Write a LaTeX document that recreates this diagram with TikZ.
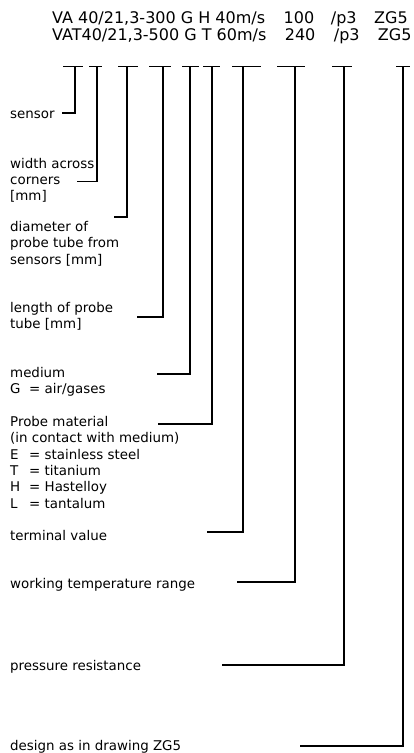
\documentclass[tikz,border=0pt]{standalone}
\usepackage{fontspec}
\setmainfont{DejaVu Sans}
\usetikzlibrary{positioning,calc}
\tikzstyle{code} = [anchor=base west, inner sep=0pt, font=\fontsize{16}{17}\selectfont]
\tikzstyle{desc} = [anchor=base west, align=left, inner sep=0pt, font=\fontsize{13.4}{16.3}\selectfont]
\tikzstyle{bar} = [line width=1.5pt]
\tikzstyle{lead} = [line width=1.5pt]
\tikzstyle{tip} = [coordinate]
\newcommand{\keyof}[1]{\makebox[19pt][l]{#1}}

\begin{document}
\begin{tikzpicture}[x=1pt, y=-1pt]
    \useasboundingbox (0,0) rectangle (413,753);

    % type codes
    \node[code] (codeA) at (52,23.5) {VA 40/21,3-300 G H 40m/s\hspace{18.5pt}100\hspace{16.7pt}/p3\hspace{17.6pt}ZG5};
    \node[code] (codeB) at (52,40) {VAT40/21,3-500 G T 60m/s\hspace{18.5pt}240\hspace{18.5pt}/p3\hspace{18.3pt}ZG5};

    % explanations (base = last line)
    \node[desc] (sensor) at (10,118) {sensor};
    \node[desc] (width) at (10,200.6) {width across\\corners\\{[mm]}};
    \node[desc] (diameter) at (10,264.1) {diameter of\\probe tube from\\sensors [mm]};
    \node[desc] (length) at (10,328.3) {length of probe\\tube [mm]};
    \node[desc] (medium) at (10,393.3) {medium\\\keyof{G}= air/gases};
    \node[desc] (material) at (10,508) {Probe material\\(in contact with medium)\\\keyof{E}= stainless steel\\\keyof{T}= titanium\\\keyof{H}= Hastelloy\\\keyof{L}= tantalum};
    \node[desc] (terminal) at (10,540) {terminal value};
    \node[desc] (temprange) at (10,588) {working temperature range};
    \node[desc] (pressure) at (10,670) {pressure resistance};
    \node[desc] (design) at (10,750) {design as in drawing ZG5};

    % markers under the code
    \coordinate (barA1) at (63,66.5);  \coordinate (barA2) at (83,66.5);
    \coordinate (barB1) at (89,66.5);  \coordinate (barB2) at (102,66.5);
    \coordinate (barC1) at (118,66.5); \coordinate (barC2) at (138,66.5);
    \coordinate (barD1) at (149,66.5); \coordinate (barD2) at (171,66.5);
    \coordinate (barE1) at (182,66.5); \coordinate (barE2) at (199,66.5);
    \coordinate (barF1) at (203,66.5); \coordinate (barF2) at (220,66.5);
    \coordinate (barG1) at (232,66.5); \coordinate (barG2) at (261,66.5);
    \coordinate (barH1) at (277,66.5); \coordinate (barH2) at (305,66.5);
    \coordinate (barI1) at (332,66.5); \coordinate (barI2) at (352,66.5);
    \coordinate (barJ1) at (396,66.5); \coordinate (barJ2) at (410,66.5);
    \draw[bar] (barA1) -- (barA2);
    \draw[bar] (barB1) -- (barB2);
    \draw[bar] (barC1) -- (barC2);
    \draw[bar] (barD1) -- (barD2);
    \draw[bar] (barE1) -- (barE2);
    \draw[bar] (barF1) -- (barF2);
    \draw[bar] (barG1) -- (barG2);
    \draw[bar] (barH1) -- (barH2);
    \draw[bar] (barI1) -- (barI2);
    \draw[bar] (barJ1) -- (barJ2);

    % leader lines
    \node[tip] (topA) at (75,66.5) {};   \node[tip] (endA) at (62,113) {};
    \node[tip] (topB) at (97,66.5) {};   \node[tip] (endB) at (77,181.5) {};
    \node[tip] (topC) at (127,66.5) {};  \node[tip] (endC) at (114,217) {};
    \node[tip] (topD) at (163,66.5) {};  \node[tip] (endD) at (137,317) {};
    \node[tip] (topE) at (190,66.5) {};  \node[tip] (endE) at (157,374) {};
    \node[tip] (topF) at (212,66.5) {};  \node[tip] (endF) at (158,424) {};
    \node[tip] (topG) at (243,66.5) {};  \node[tip] (endG) at (207,532) {};
    \node[tip] (topH) at (295,66.5) {};  \node[tip] (endH) at (237,582) {};
    \node[tip] (topI) at (344,66.5) {};  \node[tip] (endI) at (222,665) {};
    \node[tip] (topJ) at (403,66.5) {};  \node[tip] (endJ) at (300,746) {};
    \draw[lead] (topA) |- (endA);
    \draw[lead] (topB) |- (endB);
    \draw[lead] (topC) |- (endC);
    \draw[lead] (topD) |- (endD);
    \draw[lead] (topE) |- (endE);
    \draw[lead] (topF) |- (endF);
    \draw[lead] (topG) |- (endG);
    \draw[lead] (topH) |- (endH);
    \draw[lead] (topI) |- (endI);
    \draw[lead] (topJ) |- (endJ);
\end{tikzpicture}
\end{document}
